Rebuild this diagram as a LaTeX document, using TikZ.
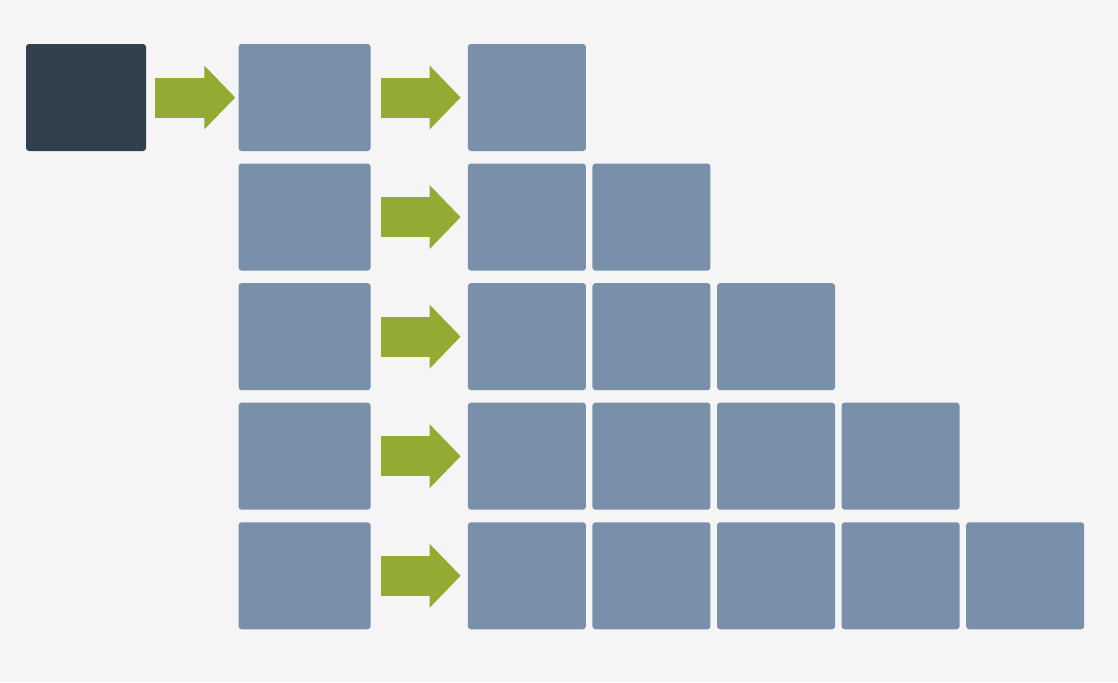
\documentclass[tikz,border=0pt]{standalone}
\usepackage{xcolor}
\usepackage{tikz}
\usetikzlibrary{arrows.meta,positioning}

\definecolor{bgcol}{HTML}{F5F5F5}
\definecolor{darkcol}{HTML}{323F4C}
\definecolor{boxcol}{HTML}{7A8FA9}
\definecolor{arrowcol}{HTML}{93AA33}

\begin{document}
\begin{tikzpicture}[inner sep=0pt,
  startbox/.style={rectangle,fill=darkcol,rounded corners=0.075cm,minimum width=3cm,minimum height=2.675cm},
  midbox/.style={rectangle,fill=boxcol,rounded corners=0.075cm,minimum width=3.3cm,minimum height=2.675cm},
  outbox/.style={rectangle,fill=boxcol,rounded corners=0.075cm,minimum width=2.95cm,minimum height=2.675cm},
  flow/.style={draw=arrowcol,line width=1cm,-{Triangle[width=1.55cm,length=0.775cm]},shorten <=0.25cm,shorten >=0.175cm}]
\fill[bgcol] (0,0) rectangle (27.95,-17.05);
\node[startbox] (S) at (2.15,-2.4375) {};
\node[midbox] (M1) [right=2.3cm of S] {};
\node[midbox] (M2) [below=0.3cm of M1] {};
\node[midbox] (M3) [below=0.3cm of M2] {};
\node[midbox] (M4) [below=0.3cm of M3] {};
\node[midbox] (M5) [below=0.3cm of M4] {};
\node[outbox] (O11) [right=2.42cm of M1] {};
\node[outbox] (O21) [right=2.42cm of M2] {};
\node[outbox] (O22) [right=0.15cm of O21] {};
\node[outbox] (O31) [right=2.42cm of M3] {};
\node[outbox] (O32) [right=0.15cm of O31] {};
\node[outbox] (O33) [right=0.15cm of O32] {};
\node[outbox] (O41) [right=2.42cm of M4] {};
\node[outbox] (O42) [right=0.15cm of O41] {};
\node[outbox] (O43) [right=0.15cm of O42] {};
\node[outbox] (O44) [right=0.15cm of O43] {};
\node[outbox] (O51) [right=2.42cm of M5] {};
\node[outbox] (O52) [right=0.15cm of O51] {};
\node[outbox] (O53) [right=0.15cm of O52] {};
\node[outbox] (O54) [right=0.15cm of O53] {};
\node[outbox] (O55) [right=0.15cm of O54] {};
\path (S) edge [flow,shorten <=0.225cm,shorten >=0.075cm] (M1);
\path (M1) edge [flow] (O11);
\path (M2) edge [flow] (O21);
\path (M3) edge [flow] (O31);
\path (M4) edge [flow] (O41);
\path (M5) edge [flow] (O51);
\end{tikzpicture}
\end{document}
